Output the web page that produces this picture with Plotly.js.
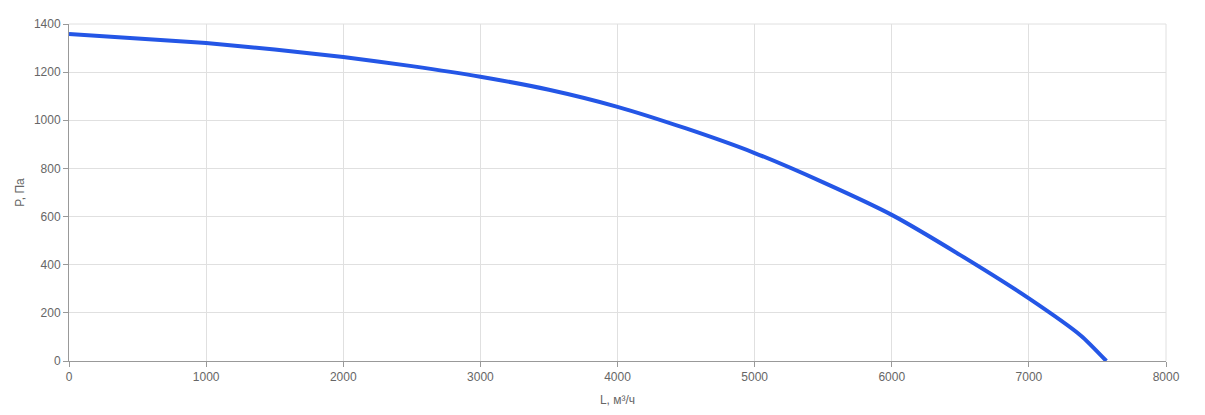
<!DOCTYPE html>
<html><head><meta charset="utf-8">
<script src="https://cdn.plot.ly/plotly-3.0.1.min.js"></script>
<style>html,body{margin:0;padding:0;background:#fff}#c{width:1205px;height:415px}</style>
</head><body><div id="c"></div>
<script>
var flowL = [0, 500, 1000, 1500, 2000, 2500, 3000, 3500, 4000, 4500, 5000, 5500, 6000, 6500, 7000, 7380, 7565];
var pressureP = [1358, 1340, 1321, 1294, 1263, 1225, 1181, 1127, 1056, 966, 864, 742, 607, 440, 260, 105, 0];
var xTitle = "L, м³/ч";
var yTitle = "P, Па";

Plotly.newPlot('c', [{
  x: flowL, y: pressureP, type: 'scatter', mode: 'lines',
  line: {color: '#2456e6', width: 4, shape: 'spline', smoothing: 0.6},
  hoverinfo: 'x+y'
}], {
  width: 1205, height: 415,
  margin: {l: 69, r: 39, t: 24, b: 54},
  paper_bgcolor: '#fff', plot_bgcolor: '#fff',
  font: {family: 'Liberation Sans, Arial, sans-serif', size: 12, color: '#666'},
  showlegend: false,
  xaxis: {range: [0, 8000], dtick: 1000, tick0: 0, showgrid: true, gridcolor: '#e0e0e0',
    zeroline: false, showline: true, linecolor: '#999', mirror: false,
    ticks: 'outside', ticklen: 5, tickcolor: '#999',
    tickfont: {size: 12, color: '#666'},
    title: {text: xTitle, font: {size: 12, color: '#666'}, standoff: 12}},
  yaxis: {range: [0, 1400], dtick: 200, tick0: 0, showgrid: true, gridcolor: '#e0e0e0',
    zeroline: false, showline: true, linecolor: '#999',
    ticks: 'outside', ticklen: 5, tickcolor: '#999',
    tickfont: {size: 12, color: '#666'},
    title: {text: yTitle, font: {size: 12, color: '#666'}, standoff: 6}},
  shapes: [
    {type: 'line', xref: 'paper', yref: 'paper', x0: 1, x1: 1, y0: 0, y1: 1, line: {color: '#e0e0e0', width: 1}},
    {type: 'line', xref: 'paper', yref: 'paper', x0: 0, x1: 1, y0: 1, y1: 1, line: {color: '#e0e0e0', width: 1}}
  ]
}, {displayModeBar: false, staticPlot: true});
</script></body></html>
